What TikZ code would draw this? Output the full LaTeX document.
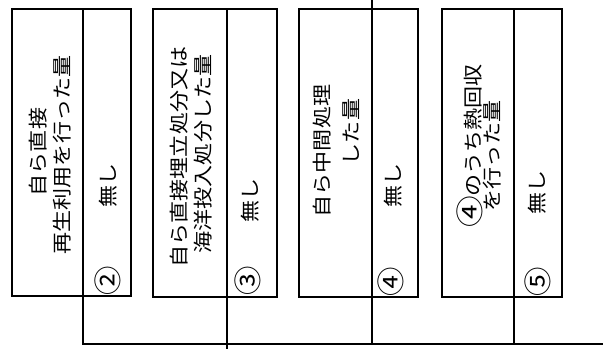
\documentclass[tikz,border=0pt]{standalone}
\usepackage{graphicx}
\usepackage{fontspec}
\newfontfamily\jp{Noto Sans CJK JP}
\newcommand\widetxt[1]{\scalebox{1.13}[1]{#1}}
\newcommand\circtxt[1]{\scalebox{1.05}[1]{#1}}
\newcommand\bigcirno[1]{{\fontsize{28}{20}\selectfont #1}}
\begin{document}
\begin{tikzpicture}[x=1pt,y=-1pt,
  box/.style={draw, line width=1.8pt, inner sep=0pt, outer sep=0pt, anchor=north west},
  divider/.style={line width=1.5pt},
  conn/.style={line width=1.5pt},
  lbl/.style={rotate=90, inner sep=0pt, font=\jp\fontsize{19.5}{22}\selectfont},
  num/.style={rotate=90, inner sep=0pt, font=\jp\fontsize{28}{28}\selectfont}]
\useasboundingbox[fill=white] (0,0) rectangle (603,349);

% boxes
\node[box, minimum width=119pt, minimum height=287pt] (b1) at (12,9) {};
\node[box, minimum width=124pt, minimum height=288pt] (b2) at (153,9) {};
\node[box, minimum width=119pt, minimum height=288pt] (b3) at (299,9) {};
\node[box, minimum width=120pt, minimum height=288pt] (b4) at (442,9) {};

% dividers
\coordinate (d1t) at (83,9);  \coordinate (d1b) at (83,296);
\coordinate (d2t) at (227,9); \coordinate (d2b) at (227,297);
\coordinate (d3t) at (372,9); \coordinate (d3b) at (372,297);
\coordinate (d4t) at (514,9); \coordinate (d4b) at (514,297);
\draw[divider] (d1t) -- (d1b);
\draw[divider] (d2t) -- (d2b);
\draw[divider] (d3t) -- (d3b);
\draw[divider] (d4t) -- (d4b);

% connectors
\coordinate (jr) at (603,344);
\coordinate (b2end) at (227,349);
\coordinate (top3) at (372,0);
\draw[conn] (d1b) |- (jr);
\draw[conn] (d2b) -- (b2end);
\draw[conn] (top3) -- (d3t);
\draw[conn] (d3b) -- (d3b |- jr);
\draw[conn] (d4b) -- (d4b |- jr);

% box 1 texts
\node[lbl] (t1a) at (38,152) {\widetxt{自ら直接}};
\node[lbl] (t1b) at (62,155) {\widetxt{再生利用を行った量}};
\node[lbl] (n1) at (108,185) {\widetxt{無し}};
\node[num] (c1) at (108,281) {\circtxt{②}};

% box 2 texts
\node[lbl] (t2a) at (179,157) {\widetxt{自ら直接埋立処分又は}};
\node[lbl] (t2b) at (203,154) {\widetxt{海洋投入処分した量}};
\node[lbl] (n2) at (250,200) {\widetxt{無し}};
\node[num] (c2) at (248,281) {\circtxt{③}};

% box 3 texts
\node[lbl] (t3a) at (322,151) {\widetxt{自ら中間処理}};
\node[lbl] (t3b) at (351,132) {\widetxt{した量}};
\node[lbl] (n3) at (393,185) {\widetxt{無し}};
\node[num] (c3) at (391,282) {\circtxt{④}};

% box 4 texts
\node[lbl] (t4a) at (470,146) {\widetxt{\bigcirno{④}のうち熱回収}};
\node[lbl] (t4b) at (492,156) {\widetxt{を行った量}};
\node[lbl] (n4) at (537,192) {\widetxt{無し}};
\node[num] (c4) at (538,282) {\circtxt{⑤}};
\end{tikzpicture}
\end{document}
